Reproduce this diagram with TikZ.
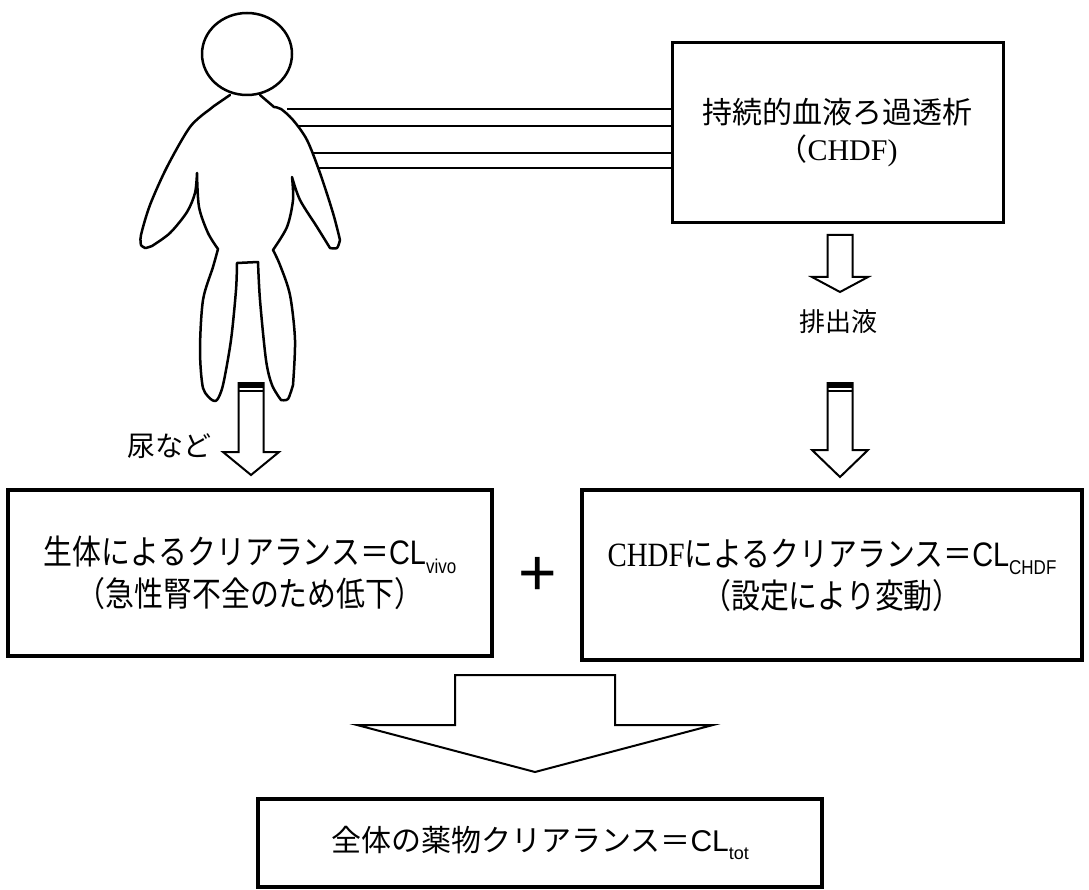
\documentclass[tikz,border=0pt]{standalone}
\usepackage{fontspec}
\setmainfont{Liberation Serif}
\newfontfamily\jpfont{Noto Sans CJK JP}
\newfontfamily\jpnarrow{Noto Sans CJK JP}[FakeStretch=0.85]
\newfontfamily\sansfont{Liberation Sans}
\newfontfamily\sansnarrow{Liberation Sans}[FakeStretch=0.85]
\newfontfamily\serifnarrow{Liberation Serif}[FakeStretch=0.85]
\usepackage{tikz}

% CL with a lowered index (optional size of the index)
\newcommand{\cl}[2][20]{CL\raisebox{-0.25em}{\fontsize{#1}{#1}\selectfont #2}}

% open block arrow pointing down: x, top, head base, tip, half shaft, half head
\newcommand{\hollowarrow}[6]{%
  \draw[hollow] (#1-#5,#2) -- (#1+#5,#2) -- (#1+#5,#3) -- (#1+#6,#3)
    -- (#1,#4) -- (#1-#6,#3) -- (#1-#5,#3) -- cycle;}

\tikzset{
  box/.style={draw, line width=4pt, align=center, inner sep=0pt},
  thinbox/.style={box, line width=3pt},
  body/.style={line width=2.5pt, line join=round, line cap=round},
  tube/.style={line width=2.5pt},
  hollow/.style={line width=2pt, fill=white},
}

\begin{document}
\begin{tikzpicture}[x=1pt,y=-1pt]
\useasboundingbox (0,0) rectangle (1089,890);

% patient
\draw[body] (247,54) ellipse [x radius=45, y radius=41];
\draw[body] (230,95) -- (214,106) -- (209,110)
  -- plot[smooth] coordinates {(209,110) (190,127) (167,167) (150,205) (141,235) (141,245)}
  -- plot[smooth] coordinates {(141,245) (145,248) (152,246)}
  -- plot[smooth] coordinates {(152,246) (170,233) (187,212) (195,193) (197,173)}
  -- plot[smooth] coordinates {(197,173) (199,207) (208,233) (218,249)}
  -- plot[smooth] coordinates {(218,249) (213,267) (203,300) (200,350) (203,388) (212,400)}
  -- plot[smooth] coordinates {(212,400) (217,400) (223,385) (231,340) (236,290) (237,263)}
  -- (258,262)
  -- plot[smooth] coordinates {(258,262) (260,300) (266,360) (272,385) (281,400)}
  -- plot[smooth] coordinates {(281,400) (288,399) (293,385)}
  -- plot[smooth] coordinates {(293,385) (295,340) (290,295) (280,265) (273,250)}
  -- plot[smooth] coordinates {(273,250) (287,227) (293,200) (292,177)}
  -- plot[smooth] coordinates {(292,177) (300,200) (317,227) (330,248)}
  -- plot[smooth] coordinates {(330,248) (337,248) (340,240)}
  -- plot[smooth] coordinates {(340,240) (333,213) (320,173) (307,140) (293,120) (281,109) (274,107)}
  -- (260,95);

% CHDF unit
\node[thinbox, minimum width=331pt, minimum height=180pt,
  font=\fontsize{30}{37}\selectfont] (chdf) at (837.5,133)
  {{\jpfont 持続的血液ろ過透析}\\{\jpfont （}CHDF)};

% blood lines
\coordinate (t1) at (287,109);
\coordinate (t2) at (297,126);
\coordinate (t3) at (312,153);
\coordinate (t4) at (317,168);
\foreach \t in {t1,t2,t3,t4}
  \draw[tube] (\t) -- (\t -| chdf.west);

% drainage
\hollowarrow{840}{235}{277}{292}{12.5}{28}
\node[font=\fontsize{26}{26}\selectfont\jpfont] (drain) at (838,322) {排出液};
\hollowarrow{840}{383}{450}{477}{12.5}{28}
\fill (827.5,383) rectangle (852.5,388);
\draw[line width=1.5pt] (827.5,391) -- (852.5,391);

% urine
\hollowarrow{251}{383}{452}{475}{12.5}{28}
\fill (238.5,383) rectangle (263.5,388);
\draw[line width=1.5pt] (238.5,391) -- (263.5,391);
\node[anchor=east, font=\fontsize{28}{28}\selectfont\jpfont] (urine) at (215,446) {尿など};

% clearances
\node[box, minimum width=484pt, minimum height=166pt,
  font=\fontsize{34}{42}\selectfont] (vivo) at (250,573)
  {{\jpnarrow 生体によるクリアランス＝}{\sansnarrow\cl{vivo}}\\
   {\jpnarrow （急性腎不全のため低下）}};
\node[font=\fontsize{66}{66}\selectfont\sansfont] (plus) at (538,576) {+};
\node[box, minimum width=500pt, minimum height=170pt,
  font=\fontsize{34}{42}\selectfont] (clchdf) at (832,575)
  {{\serifnarrow CHDF}{\jpnarrow によるクリアランス＝}{\sansnarrow\cl{CHDF}}\\
   {\jpnarrow （設定により変動）}};

% sum
\hollowarrow{535}{675}{725}{772}{80}{178}
\node[box, minimum width=564pt, minimum height=88pt,
  font=\fontsize{30}{36}\selectfont] (tot) at (540,843)
  {{\jpfont 全体の薬物クリアランス＝}{\sansfont\cl[18]{tot}}};
\end{tikzpicture}
\end{document}
